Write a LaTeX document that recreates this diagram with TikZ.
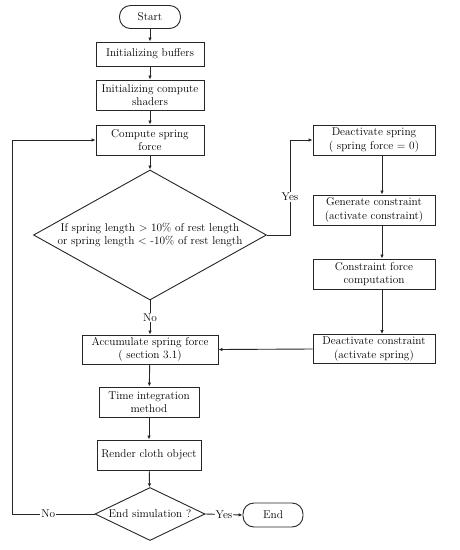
\documentclass[tikz,border=0pt]{standalone}
\usetikzlibrary{shapes.geometric,arrows.meta}
\begin{document}
\begin{tikzpicture}[x=1pt,y=-1pt,
  every node/.style={font=\fontsize{11.3}{13.5}\selectfont, text=black},
  box/.style={draw=black!85, line width=0.9pt, align=center, inner sep=0pt},
  term/.style={box, rounded corners=11pt},
  dia/.style={draw=black!85, line width=0.9pt, diamond, align=center, inner sep=0pt},
  lbl/.style={fill=white, inner sep=1pt},
  conn/.style={draw=black!85, line width=0.9pt, -{Latex[length=4pt,width=3.5pt]}}]
\useasboundingbox (0,0) rectangle (459,550);
\fill[white] (0,0) rectangle (459,550);

\node[term, minimum width=61pt, minimum height=23pt] (start) at (150,17) {Start};
\node[box, minimum width=108pt, minimum height=24pt] (buf) at (150,54) {Initializing buffers};
\node[box, minimum width=108pt, minimum height=30pt] (shad) at (150,95) {Initializing compute\\shaders};
\node[box, minimum width=108pt, minimum height=30pt] (csf) at (150,140) {Compute spring\\force};
\node[dia, minimum width=233pt, minimum height=130pt, aspect=1.79] (d1) at (150,235)
  {If spring length > 10\% of rest length\\or spring length < -10\% of rest length};

\node[box, minimum width=122pt, minimum height=30pt] (dspr) at (374,140) {Deactivate spring\\( spring force = 0)};
\node[box, minimum width=122pt, minimum height=30pt] (gen) at (374,210) {Generate constraint\\(activate constraint)};
\node[box, minimum width=122pt, minimum height=30pt] (cfc) at (374,274) {Constraint force\\computation};
\node[box, minimum width=122pt, minimum height=29pt] (dcon) at (374,349) {Deactivate constraint\\(activate spring)};

\node[box, minimum width=136pt, minimum height=29pt] (acc) at (150,349.5) {Accumulate spring force\\( section 3.1)};
\node[box, minimum width=100pt, minimum height=30pt] (tim) at (149,402) {Time integration\\method};
\node[box, minimum width=104pt, minimum height=30pt] (ren) at (149,455) {Render cloth object};
\node[dia, minimum width=110pt, minimum height=53pt, aspect=2.1] (d2) at (150,514) {End simulation ?};
\node[term, minimum width=60pt, minimum height=24pt] (end) at (273,515) {End};

\coordinate (yesturn) at (290,235);
\coordinate (loopb) at (12,514);

\draw[conn] (start) -- (buf);
\draw[conn] (buf) -- (shad);
\draw[conn] (shad) -- (csf);
\draw[conn] (csf) -- (d1);
\draw[conn] (d1.east) -- (yesturn) |- node[lbl, pos=0.2] {Yes} (dspr.west);
\draw[conn] ([xshift=8pt]dspr.south) -- ([xshift=8pt]gen.north);
\draw[conn] ([xshift=8pt]gen.south) -- ([xshift=8pt]cfc.north);
\draw[conn] ([xshift=8pt]cfc.south) -- ([xshift=8pt]dcon.north);
\draw[conn] (dcon.west) -- (acc.east);
\draw[conn] (d1.south) -- node[lbl] {No} (acc.north);
\draw[conn] (acc) -- (tim);
\draw[conn] (tim) -- (ren);
\draw[conn] (ren) -- (d2);
\draw[conn] (d2.east) -- node[lbl] {Yes} (end.west);
\draw[conn] (d2.west) -- node[lbl, pos=0.56] {No} (loopb) |- (csf.west);
\end{tikzpicture}
\end{document}
